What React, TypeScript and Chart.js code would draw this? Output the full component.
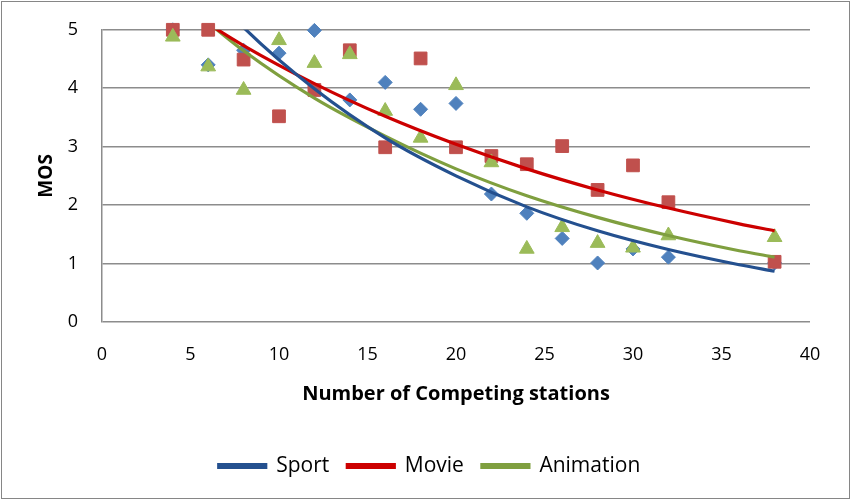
import React, { useEffect, useRef } from 'react';
import { Chart, registerables } from 'chart.js';
Chart.register(...registerables);

const stations = [4, 6, 8, 10, 12, 14, 16, 18, 20, 22, 24, 26, 28, 30, 32, 38];
const sportMos = [5.0, 4.4, 4.65, 4.6, 4.99, 3.8, 4.1, 3.64, 3.74, 2.19, 1.86, 1.43, 1.01, 1.25, 1.11, 1.01];
const movieMos = [5.0, 5.0, 4.49, 3.52, 3.97, 4.65, 2.99, 4.51, 2.99, 2.84, 2.7, 3.01, 2.26, 2.68, 2.05, 1.03];
const animationMos = [4.88, 4.37, 3.97, 4.82, 4.43, 4.58, 3.61, 3.15, 4.05, 2.73, 1.25, 1.62, 1.35, 1.27, 1.48, 1.45];

const trendX = [4, 8, 12, 16, 20, 24, 28, 32, 36, 38];
const sportTrend = [6.37, 5.04, 3.99, 3.15, 2.5, 1.97, 1.56, 1.24, 0.98, 0.87];
const movieTrend = [5.49, 4.73, 4.08, 3.52, 3.04, 2.62, 2.26, 1.95, 1.68, 1.56];
const animationTrend = [5.63, 4.64, 3.83, 3.18, 2.62, 2.16, 1.79, 1.48, 1.22, 1.11];

const seriesNames = ['Sport', 'Movie', 'Animation'];
const xTitle = 'Number of Competing stations';
const yTitle = 'MOS';

const pts = (xs: number[], ys: number[]) => xs.map((x, i) => ({ x, y: ys[i] }));

export default function App() {
  const ref = useRef<HTMLCanvasElement>(null);
  useEffect(() => {
    const family = '"Open Sans", Lato, sans-serif';
    const trendColors = ['#24508F', '#CC0000', '#7F9F3F'];
    const markColors = ['#4F81BD', '#C0504D', '#9BBB59'];
    const trends = [sportTrend, movieTrend, animationTrend];
    const marks = [sportMos, movieMos, animationMos];
    const styles = ['rectRot', 'rect', 'triangle'];
    const radii = [7, 9, 8.5];
    const datasets: any[] = [];
    trends.forEach((t, i) => {
      datasets.push({
        label: seriesNames[i],
        data: pts(trendX, t),
        showLine: true,
        borderColor: trendColors[i],
        backgroundColor: trendColors[i],
        borderWidth: 3.2,
        pointRadius: 0,
        cubicInterpolationMode: 'monotone',
        order: 0,
      });
    });
    marks.forEach((m, i) => {
      datasets.push({
        label: seriesNames[i] + ' data',
        data: pts(stations, m),
        showLine: false,
        pointStyle: styles[i],
        pointRadius: radii[i],
        backgroundColor: markColors[i],
        borderColor: markColors[i],
        borderWidth: 1,
        clip: false,
        order: 3 - i,
      });
    });
    const chart = new Chart(ref.current!, {
      type: 'scatter',
      data: { datasets },
      options: {
        responsive: false,
        animation: false,
        layout: { padding: { left: 49, right: 40, top: 20, bottom: 12.5 } },
        plugins: {
          legend: {
            position: 'bottom',
            labels: {
              filter: (item: any) => item.datasetIndex < 3,
              boxWidth: 47,
              boxHeight: 3,
              padding: 18,
              color: '#000',
              font: { family, size: 21 },
            },
          },
          tooltip: { enabled: false },
        },
        scales: {
          x: {
            type: 'linear',
            min: 0,
            max: 40,
            ticks: { stepSize: 5, padding: 22, color: '#000', font: { family, size: 18 } },
            grid: { display: false, drawTicks: false },
            border: { display: false },
            title: {
              display: true,
              text: xTitle,
              color: '#000',
              font: { family, size: 20, weight: 'bold' },
              padding: { top: 0, bottom: 31.5 },
            },
            afterFit: (s: any) => { s.height = 115.5; },
          },
          y: {
            min: 0,
            max: 5,
            ticks: { stepSize: 1, padding: 24, color: '#000', font: { family, size: 18 } },
            grid: { color: '#8c8c8c', lineWidth: 1.5, drawTicks: false },
            border: { display: true, color: '#8c8c8c', width: 1.5 },
            title: {
              display: true,
              text: yTitle,
              color: '#000',
              font: { family, size: 19, weight: 'bold' },
              padding: { top: -13.4, bottom: 0 },
            },
            afterFit: (s: any) => { s.width = 53; },
          },
        },
      } as any,
    });
    return () => chart.destroy();
  }, []);
  return (
    <div style={{ position: 'absolute', left: 0, top: 0, width: 850, height: 499, background: '#fff', overflow: 'hidden' }}>
      <canvas ref={ref} width={850} height={504} style={{ display: 'block', position: 'absolute', left: 0, top: -5 }} />
      <div style={{ position: 'absolute', left: 1, top: 1, width: 847, height: 496, border: '1px solid #868686', pointerEvents: 'none' }} />
    </div>
  );
}
